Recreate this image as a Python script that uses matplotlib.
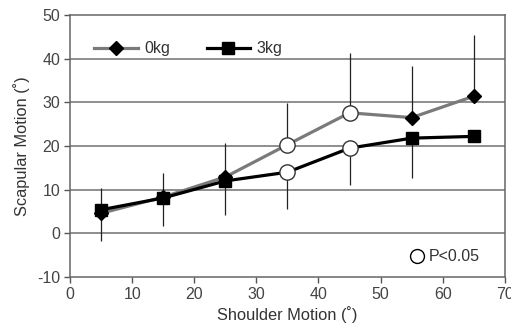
import matplotlib
matplotlib.use("Agg")
import matplotlib.pyplot as plt
from matplotlib.lines import Line2D
import numpy as np

plt.rcParams['font.family'] = ['Liberation Sans', 'DejaVu Sans']
plt.rcParams['axes.unicode_minus'] = False

# Shoulder motion (deg) and scapular motion means / SDs
shoulder = [5, 15, 25, 35, 45, 55, 65]
kg0_mean = [4.6, 8.3, 12.9, 20.3, 27.6, 26.5, 31.4]
kg0_sd = [5.8, 5.5, 7.8, 9.5, 13.7, 11.9, 14.1]
kg3_mean = [5.4, 8.1, 12.0, 14.0, 19.5, 21.8, 22.2]
kg3_sd = [7.2, 6.5, 7.7, 8.4, 8.4, 9.1, 0.0]
significant = [35, 45]

xticks = [0, 10, 20, 30, 40, 50, 60, 70]
yticks = [-10, 0, 10, 20, 30, 40, 50]

fig = plt.figure(figsize=(5.11, 3.30), dpi=100)
ax = fig.add_axes([0.137, 0.1606, 0.851, 0.794])

gray = '#7a7a7a'
x = np.array(shoulder)
sig = np.isin(x, significant)

# error bars: 0kg upward, 3kg downward
ax.errorbar(x, kg0_mean, yerr=[np.zeros(len(x)), kg0_sd], fmt='none',
            ecolor='#222222', elinewidth=0.9, capsize=0, zorder=2)
ax.errorbar(x, kg3_mean, yerr=[kg3_sd, np.zeros(len(x))], fmt='none',
            ecolor='#222222', elinewidth=0.9, capsize=0, zorder=2)

# lines
ax.plot(x, kg0_mean, color=gray, lw=2.3, zorder=3)
ax.plot(x, kg3_mean, color='black', lw=2.3, zorder=4)

# markers for non-significant points
ax.plot(x[~sig], np.array(kg0_mean)[~sig], ls='none', marker='D', ms=7,
        color='black', zorder=5)
ax.plot(x[~sig], np.array(kg3_mean)[~sig], ls='none', marker='s', ms=8.5,
        color='black', zorder=6)
# open circles for significant points
for m in (kg0_mean, kg3_mean):
    ax.plot(x[sig], np.array(m)[sig], ls='none', marker='o', ms=11,
            mfc='white', mec='#333333', mew=1.0, zorder=7)

ax.set_xlim(0, 70)
ax.set_ylim(-10, 50)
ax.set_xticks(xticks)
ax.set_yticks(yticks)
ax.tick_params(direction='out', length=4, width=1, color='#555555',
               labelsize=11.5, pad=3)
for t in ax.get_xticklabels() + ax.get_yticklabels():
    t.set_color('#444444')
for gy in [0, 10, 20, 30, 40]:
    ax.axhline(gy, color='#707070', lw=1.1, zorder=1)
for s in ax.spines.values():
    s.set_color('#666666')
    s.set_linewidth(1.1)

ax.set_xlabel('Shoulder Motion (˚)', fontsize=11.8, color='#333333', labelpad=3)
ax.set_ylabel('Scapular Motion (˚)', fontsize=11.8, color='#333333', labelpad=5)

handles = [
    Line2D([], [], color=gray, lw=2.3, marker='D', ms=7, mfc='black', mec='black'),
    Line2D([], [], color='black', lw=2.3, marker='s', ms=8.5),
]
leg = ax.legend(handles, ['0kg', '3kg'], loc='upper left', ncol=2, frameon=False,
                fontsize=11.5, bbox_to_anchor=(0.023, 0.955), handlelength=2.7,
                columnspacing=2.3, handletextpad=0.4)
for t in leg.get_texts():
    t.set_color('#333333')

ax.plot([0.798], [0.08], transform=ax.transAxes, ls='none', marker='o', ms=10,
        mfc='white', mec='black', mew=1.0, clip_on=False)
ax.text(0.826, 0.08, 'P<0.05', transform=ax.transAxes, fontsize=11.5,
        va='center', ha='left', color='#333333')

fig.savefig('out.png', dpi=100)
